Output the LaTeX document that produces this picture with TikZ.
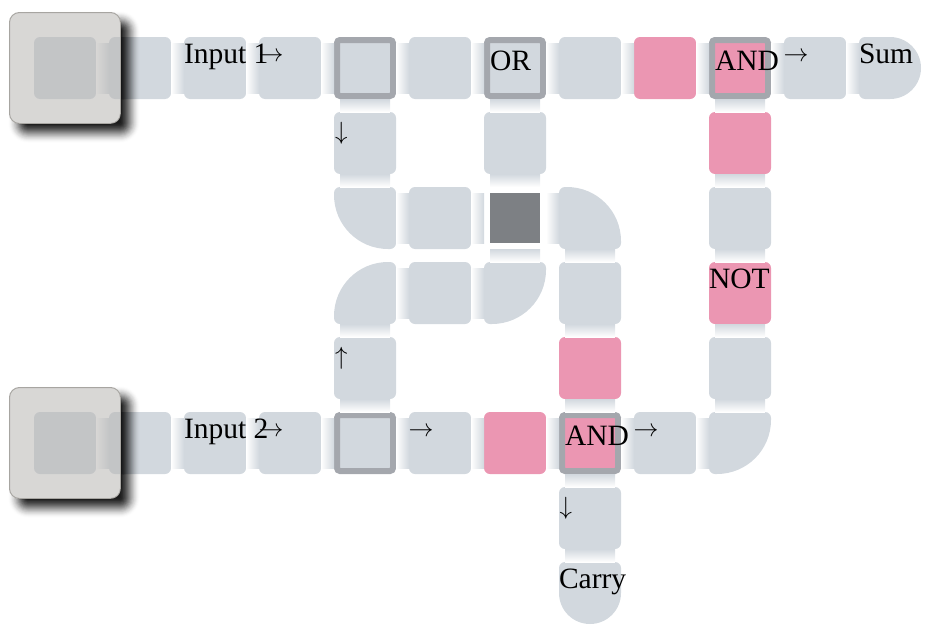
\documentclass[tikz,border=0pt]{standalone}
\usepackage{fontspec}
\setmainfont{Liberation Serif}
\usepackage{xcolor}
\definecolor{cellbg}{HTML}{D2D8DE}
\definecolor{cellpk}{HTML}{EB96B2}
\definecolor{cellfr}{HTML}{A4A7AD}
\definecolor{celldk}{HTML}{7D8084}
\definecolor{boxbg}{HTML}{B8B6B3}
\definecolor{boxln}{HTML}{A8A6A2}
\usepackage{tikz}
\newcommand{\curvecell}[5]{%
\fill[cellbg,rounded corners=#2] (#1.north west) [rounded corners=#3] -- (#1.north east) [rounded corners=#4] -- (#1.south east) [rounded corners=#5] -- (#1.south west) [rounded corners=#2] -- cycle;}
\newcommand{\boxshadow}[1]{%
\begin{scope}[even odd rule]
\clip (-5,-5) rectangle (931,634) [rounded corners=10pt] (#1.north west) rectangle (#1.south east);
\foreach \s in {-11,...,10}{%
\pgfmathsetmacro{\rad}{max(2,10+\s)}
\pgfmathsetmacro{\tn}{(11-\s)/22}
\pgfmathsetmacro{\tp}{(10-\s)/22}
\pgfmathsetmacro{\lay}{1-(1-.9*\tn*\tn*(3-2*\tn))/(1-.9*\tp*\tp*(3-2*\tp))}
\fill[black,fill opacity=\lay,rounded corners=\rad pt] ([shift={(9-\s,9-\s)}]#1.north west) rectangle ([shift={(9+\s,9+\s)}]#1.south east);
}
\end{scope}}
\begin{document}
\begin{tikzpicture}[x=1pt,y=-1pt,
cellbox/.style={minimum size=62pt,inner sep=0pt,outer sep=0pt},
graycell/.style={cellbox,fill=cellbg,rounded corners=6pt},
pinkcell/.style={cellbox,fill=cellpk,rounded corners=6pt},
framecell/.style={minimum size=56pt,inner sep=0pt,outer sep=3pt,draw=cellfr,line width=6pt,rounded corners=3pt,fill=cellbg},
framepink/.style={framecell,fill=cellpk},
darkcell/.style={minimum size=50pt,inner sep=0pt,outer sep=6pt,fill=celldk},
pressbox/.style={minimum size=111pt,inner sep=0pt,outer sep=.5pt,rounded corners=10pt,fill=boxbg,fill opacity=.55,draw=boxln,line width=1pt},
lbl/.style={anchor=base west,inner sep=0pt,outer sep=0pt,font=\fontsize{29.5}{32}\selectfont},
arw/.style={anchor=base west,inner sep=0pt,outer sep=0pt,font=\fontsize{28.8}{32}\selectfont}]
\useasboundingbox (0,0) rectangle (926,629);
\foreach \c/\r/\kind in {0/0/graycell,1/0/graycell,2/0/graycell,3/0/graycell,4/0/framecell,5/0/graycell,6/0/framecell,7/0/graycell,8/0/pinkcell,9/0/framepink,10/0/graycell,11/0/cellbox,
4/1/graycell,6/1/graycell,9/1/pinkcell,
4/2/cellbox,5/2/graycell,6/2/darkcell,7/2/cellbox,9/2/graycell,
4/3/cellbox,5/3/graycell,6/3/cellbox,7/3/graycell,9/3/pinkcell,
4/4/graycell,7/4/pinkcell,9/4/graycell,
0/5/graycell,1/5/graycell,2/5/graycell,3/5/graycell,4/5/framecell,5/5/graycell,6/5/pinkcell,7/5/framepink,8/5/graycell,9/5/cellbox,
7/6/graycell,7/7/cellbox}{%
\node[\kind] (n\c-\r) at ({65+75*\c},{68+75*\r}) {};
}
\curvecell{n11-0}{6pt}{31pt}{31pt}{6pt}
\curvecell{n4-2}{6pt}{6pt}{6pt}{54pt}
\curvecell{n7-2}{6pt}{54pt}{6pt}{6pt}
\curvecell{n4-3}{54pt}{6pt}{6pt}{6pt}
\curvecell{n6-3}{6pt}{6pt}{54pt}{6pt}
\curvecell{n9-5}{6pt}{6pt}{54pt}{6pt}
\curvecell{n7-7}{6pt}{6pt}{31pt}{31pt}
\foreach \a/\b/\r in {0/1/0,1/2/0,2/3/0,3/4/0,4/5/0,5/6/0,6/7/0,7/8/0,8/9/0,9/10/0,10/11/0,
4/5/2,5/6/2,6/7/2,4/5/3,5/6/3,
0/1/5,1/2/5,2/3/5,3/4/5,4/5/5,5/6/5,6/7/5,7/8/5,8/9/5}{%
\shade[left color=white,right color=cellbg] ([yshift=-25pt]n\a-\r.east) rectangle ([yshift=25pt]n\b-\r.west);
}
\foreach \c/\a/\b in {4/0/1,6/0/1,9/0/1,4/1/2,6/1/2,9/1/2,6/2/3,7/2/3,9/2/3,4/3/4,7/3/4,9/3/4,4/4/5,7/4/5,9/4/5,7/5/6,7/6/7}{%
\shade[top color=cellbg,bottom color=white] ([xshift=-25pt]n\c-\a.south) rectangle ([xshift=25pt]n\c-\b.north);
}
\node[pressbox] (input1) at (n0-0) {};
\node[pressbox] (input2) at (n0-5) {};
\boxshadow{input1}
\boxshadow{input2}
\node[lbl] (lbin1) at (184,63) {Input 1};
\node[arw] (arin1) at (258.5,61.2) {$\rightarrow$};
\node[lbl] (lbor) at (490,70) {OR};
\node[lbl] (lband1) at (715,70) {AND};
\node[arw] (arand1) at (783.5,61.2) {$\rightarrow$};
\node[lbl] (lbsum) at (859,63) {Sum};
\node[arw] (ardn1) at (335,139.4) {$\downarrow$};
\node[lbl] (lbnot) at (709,288) {NOT};
\node[arw] (arup) at (335,364.4) {$\uparrow$};
\node[lbl] (lbin2) at (184,438) {Input 2};
\node[arw] (arin2) at (258.5,436.2) {$\rightarrow$};
\node[arw] (arsel) at (408.5,436.2) {$\rightarrow$};
\node[lbl] (lband2) at (565,445) {AND};
\node[arw] (arand2) at (633.5,436.2) {$\rightarrow$};
\node[arw] (ardn2) at (559.5,514.4) {$\downarrow$};
\node[lbl] (lbcarry) at (559,588) {Carry};
\end{tikzpicture}
\end{document}
